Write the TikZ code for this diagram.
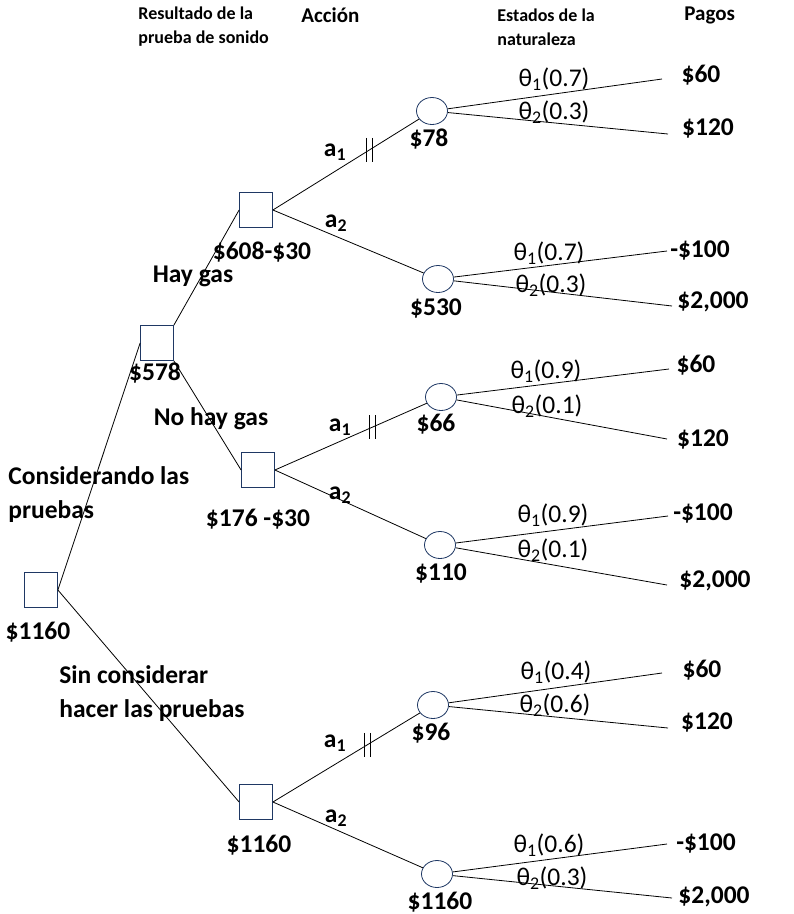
\documentclass[tikz,border=0pt]{standalone}
\usepackage{fontspec}
\setmainfont{Carlito}
\usetikzlibrary{shapes.geometric}
\definecolor{nodeblue}{RGB}{31,56,100}
\newcommand{\tlab}[2]{θ\textsubscript{#1}(#2)}

\begin{document}
\begin{tikzpicture}[x=1pt,y=-1pt,line width=0.8pt,
    decision/.style={draw=nodeblue, minimum width=33pt, minimum height=35pt, inner sep=0pt},
    chance/.style={ellipse, draw=nodeblue, minimum width=31pt, minimum height=27pt, inner sep=0pt},
    val/.style={font=\fontsize{25.5}{34}\selectfont\bfseries, inner sep=0pt, align=left},
    prob/.style={font=\fontsize{25.5}{26}\selectfont, inner sep=0pt},
    head/.style={font=\fontsize{18}{24}\selectfont\bfseries, inner sep=0pt, align=left},
    bighead/.style={font=\fontsize{21}{24}\selectfont\bfseries, inner sep=0pt}]
    \useasboundingbox (0,0) rectangle (794,914);

    % titulos
    \node[head, anchor=west] (hres) at (138,27) {Resultado de la\\prueba de sonido};
    \node[bighead, anchor=west] (hacc) at (301,15) {Acción};
    \node[head, anchor=west] (hest) at (497,27) {Estados de la\\naturaleza};
    \node[bighead, anchor=west] (hpag) at (684,15) {Pagos};

    % nodos de decision
    \node[decision] (root) at (41,590) {};
    \node[decision] (prueba) at (157,343) {};
    \node[decision] (hay) at (256,210) {};
    \node[decision] (nohay) at (258,470) {};
    \node[decision] (sin) at (256,802) {};

    % nodos de azar
    \node[chance] (c1) at (432,111) {};
    \node[chance] (c2) at (438,279) {};
    \node[chance] (c3) at (441,397) {};
    \node[chance] (c4) at (440,545) {};
    \node[chance] (c5) at (433,705) {};
    \node[chance] (c6) at (437,874) {};

    % ramas
    \draw (root.east) -- (prueba.west);
    \draw (root.east) -- (sin.west);
    \draw (prueba.north east) -- (hay.west);
    \draw (prueba.south east) -- (nohay.west);
    \draw (hay.east) -- coordinate[pos=.66] (t1) (c1);
    \draw (hay.east) -- (c2);
    \draw (nohay.east) -- coordinate[pos=.64] (t2) (c3);
    \draw (nohay.east) -- (c4);
    \draw (sin.east) -- coordinate[pos=.64] (t3) (c5);
    \draw (sin.east) -- (c6);

    % acciones descartadas
    \foreach \t in {t1,t2,t3}{
        \draw[line width=0.6pt] ([xshift=-3pt]\t) ++(0,-12) -- ++(0,24);
        \draw[line width=0.6pt] ([xshift=3pt]\t) ++(0,-12) -- ++(0,24);
    }

    % estados de la naturaleza
    \coordinate (e1a) at (662,79);  \coordinate (e1b) at (668,134);
    \coordinate (e2a) at (667,251); \coordinate (e2b) at (672,306);
    \coordinate (e3a) at (669,369); \coordinate (e3b) at (667,439);
    \coordinate (e4a) at (668,516); \coordinate (e4b) at (667,585);
    \coordinate (e5a) at (662,673); \coordinate (e5b) at (668,728);
    \coordinate (e6a) at (667,844); \coordinate (e6b) at (672,898);
    \foreach \c/\e in {c1/e1,c2/e2,c3/e3,c4/e4,c5/e5,c6/e6}{
        \draw (\c) -- (\e a);
        \draw (\c) -- (\e b);
    }

    % probabilidades
    \node[prob] (p1a) at (554,79) {\tlab{1}{0.7}};
    \node[prob] (p1b) at (554,112) {\tlab{2}{0.3}};
    \node[prob] (p2a) at (549,253) {\tlab{1}{0.7}};
    \node[prob] (p2b) at (551,285) {\tlab{2}{0.3}};
    \node[prob] (p3a) at (546,371) {\tlab{1}{0.9}};
    \node[prob] (p3b) at (547,406) {\tlab{2}{0.1}};
    \node[prob] (p4a) at (553,515) {\tlab{1}{0.9}};
    \node[prob] (p4b) at (553,550) {\tlab{2}{0.1}};
    \node[prob] (p5a) at (556,672) {\tlab{1}{0.4}};
    \node[prob] (p5b) at (555,705) {\tlab{2}{0.6}};
    \node[prob] (p6a) at (549,845) {\tlab{1}{0.6}};
    \node[prob] (p6b) at (552,878) {\tlab{2}{0.3}};

    % pagos
    \node[val] (g1a) at (701,75) {\$60};
    \node[val] (g1b) at (708,128) {\$120};
    \node[val] (g2a) at (700,250) {-\$100};
    \node[val] (g2b) at (713,302) {\$2,000};
    \node[val] (g3a) at (696,365) {\$60};
    \node[val] (g3b) at (703,439) {\$120};
    \node[val] (g4a) at (703,513) {-\$100};
    \node[val] (g4b) at (715,581) {\$2,000};
    \node[val] (g5a) at (702,670) {\$60};
    \node[val] (g5b) at (707,722) {\$120};
    \node[val] (g6a) at (706,843) {-\$100};
    \node[val] (g6b) at (714,897) {\$2,000};

    % valores esperados
    \node[val] (v1) at (429,139) {\$78};
    \node[val] (v2) at (436,308) {\$530};
    \node[val] (v3) at (436,424) {\$66};
    \node[val] (v4) at (441,573) {\$110};
    \node[val] (v5) at (431,733) {\$96};
    \node[val] (v6) at (440,902) {\$1160};
    \node[val] (vhay) at (262,252) {\$608-\$30};
    \node[val] (vprueba) at (155,373) {\$578};
    \node[val] (vnohay) at (258,519) {\$176 -\$30};
    \node[val] (vroot) at (38,632) {\$1160};
    \node[val] (vsin) at (259,845) {\$1160};

    % etiquetas de ramas
    \node[val] (lhay) at (193,276) {Hay gas};
    \node[val] (lnohay) at (211,419) {No hay gas};
    \node[val, anchor=west] (lcon) at (8,495) {Considerando las\\pruebas};
    \node[val, anchor=west] (lsin) at (59,694) {Sin considerar\\hacer las pruebas};
    \node[val] (a1) at (335,152) {a\textsubscript{1}};
    \node[val] (a2) at (336,223) {a\textsubscript{2}};
    \node[val] (a3) at (340,427) {a\textsubscript{1}};
    \node[val] (a4) at (340,495) {a\textsubscript{2}};
    \node[val] (a5) at (335,743) {a\textsubscript{1}};
    \node[val] (a6) at (336,818) {a\textsubscript{2}};
\end{tikzpicture}
\end{document}
